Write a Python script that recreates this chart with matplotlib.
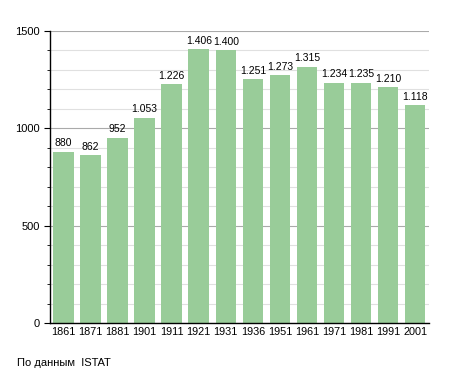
import matplotlib
matplotlib.use("Agg")
from matplotlib import pyplot as plt
from matplotlib.ticker import MultipleLocator

# dati del censimento
anni = ["1861", "1871", "1881", "1901", "1911", "1921", "1931",
        "1936", "1951", "1961", "1971", "1981", "1991", "2001"]
abitanti = [880, 862, 952, 1053, 1226, 1406, 1400,
            1251, 1273, 1315, 1234, 1235, 1210, 1118]

plt.rcParams["font.family"] = ["Liberation Sans", "DejaVu Sans"]

fig = plt.figure(figsize=(4.55, 3.73), dpi=100)
ax = fig.add_axes([0.11, 0.134, 0.832, 0.783])

x = range(len(anni))
ax.bar(x, abitanti, width=0.76, color="#99cc99", zorder=2)

for i, v in enumerate(abitanti):
    testo = "{:,}".format(v).replace(",", ".")
    ax.text(i, v + 18, testo, ha="center", va="bottom", fontsize=7.5)

ax.set_xlim(-0.5, len(anni) - 0.5)
ax.set_ylim(0, 1500)
ax.set_xticks(list(x))
ax.set_xticklabels(anni, fontsize=7.8)
ax.yaxis.set_major_locator(MultipleLocator(500))
ax.yaxis.set_minor_locator(MultipleLocator(100))
ax.tick_params(axis="y", labelsize=8, length=4, direction="out")
ax.tick_params(axis="y", which="minor", length=2)
ax.tick_params(axis="x", length=0, pad=3)

ax.grid(axis="y", which="major", color="#aaaaaa", linewidth=0.8, zorder=0)
ax.grid(axis="y", which="minor", color="#e0e0e0", linewidth=0.8, zorder=0)

for s in ["top", "right"]:
    ax.spines[s].set_visible(False)
ax.spines["left"].set_linewidth(1)
ax.spines["bottom"].set_linewidth(1)

fig.text(0.037, 0.02, "По данным  ISTAT", fontsize=8)

fig.savefig("out.png", dpi=100)
